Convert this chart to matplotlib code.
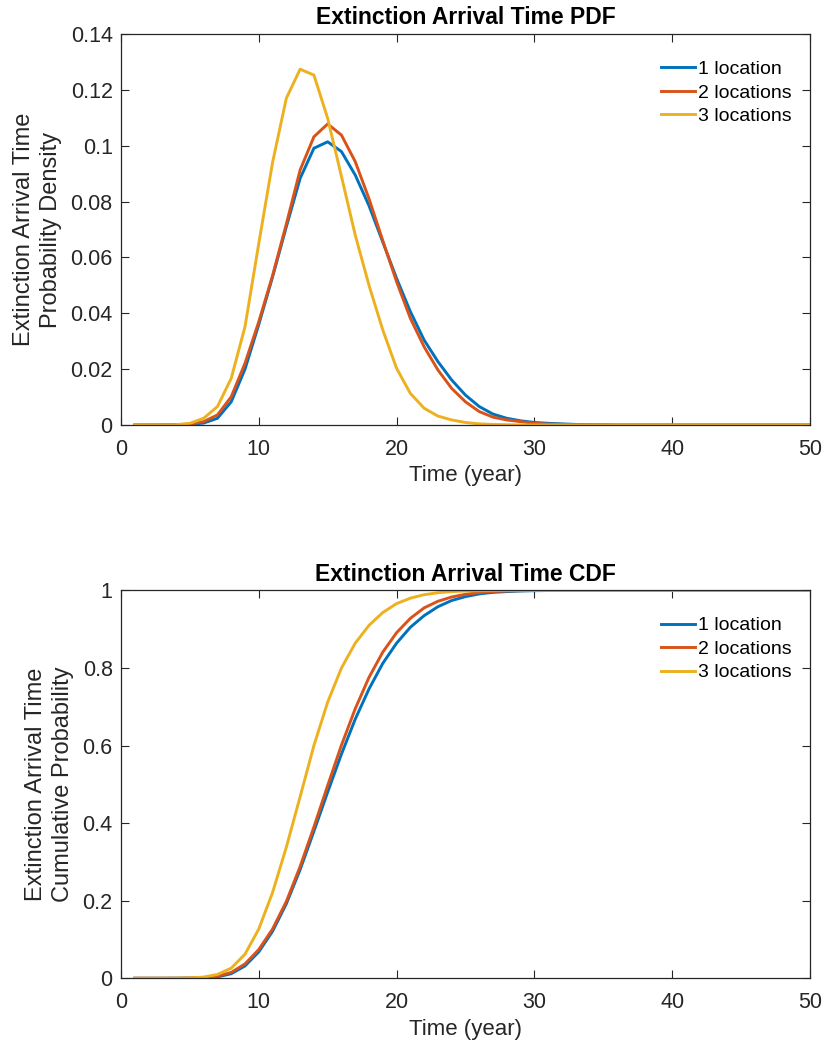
import numpy as np
import matplotlib.pyplot as plt

plt.rcParams['font.family'] = ['Liberation Sans', 'DejaVu Sans']

# time steps (years)
t = np.arange(1, 51)

labels = ['1 location', '2 locations', '3 locations']
colors = ['#0072BD', '#D95319', '#EDB120']

# probability density, t = 1..50
pdf_1 = [0, 0, 0, 0.0001, 0.0002, 0.0007, 0.0024, 0.0083, 0.020, 0.036,
         0.053, 0.071, 0.0883, 0.0991, 0.1014, 0.0979, 0.0895, 0.0785, 0.0655, 0.0525,
         0.0406, 0.0304, 0.0227, 0.0161, 0.0107, 0.0066, 0.0039, 0.0024, 0.0015, 0.0009,
         0.0006, 0.0004, 0.0002, 0.0001, 0.0001, 0, 0, 0, 0, 0,
         0, 0, 0, 0, 0, 0, 0, 0, 0, 0]
pdf_2 = [0, 0, 0, 0.0001, 0.0003, 0.0012, 0.0036, 0.0101, 0.0221, 0.037,
         0.0535, 0.072, 0.0913, 0.1032, 0.1078, 0.1038, 0.0943, 0.081, 0.066, 0.0513,
         0.0382, 0.028, 0.0197, 0.0131, 0.0083, 0.0048, 0.0028, 0.0018, 0.0012, 0.0006,
         0.0003, 0.0002, 0.0001, 0, 0, 0, 0, 0, 0, 0,
         0, 0, 0, 0, 0, 0, 0, 0, 0, 0]
pdf_3 = [0, 0, 0, 0.0001, 0.0006, 0.0024, 0.0066, 0.0167, 0.0352, 0.065,
         0.094, 0.117, 0.1274, 0.1253, 0.1098, 0.089, 0.068, 0.050, 0.034, 0.0203,
         0.0113, 0.006, 0.0032, 0.0018, 0.0009, 0.0004, 0.0002, 0.0001, 0, 0,
         0, 0, 0, 0, 0, 0, 0, 0, 0, 0,
         0, 0, 0, 0, 0, 0, 0, 0, 0, 0]

# cumulative probability, t = 1..50
cdf_1 = [0, 0, 0, 0.0001, 0.0003, 0.001, 0.0034, 0.0117, 0.0317, 0.068,
         0.121, 0.192, 0.28, 0.379, 0.48, 0.578, 0.668, 0.746, 0.812, 0.864,
         0.905, 0.935, 0.958, 0.974, 0.984, 0.991, 0.995, 0.997, 0.9985, 0.9993,
         0.9997, 0.9999, 1, 1, 1, 1, 1, 1, 1, 1,
         1, 1, 1, 1, 1, 1, 1, 1, 1, 1]
cdf_2 = [0, 0, 0, 0.0001, 0.0004, 0.0016, 0.0052, 0.015, 0.037, 0.074,
         0.127, 0.198, 0.288, 0.39, 0.497, 0.601, 0.695, 0.776, 0.841, 0.891,
         0.928, 0.955, 0.972, 0.983, 0.99, 0.9945, 0.9972, 0.9986, 0.9994, 0.9998,
         1, 1, 1, 1, 1, 1, 1, 1, 1, 1,
         1, 1, 1, 1, 1, 1, 1, 1, 1, 1]
cdf_3 = [0, 0, 0, 0.0001, 0.0007, 0.003, 0.0097, 0.026, 0.062, 0.127,
         0.221, 0.338, 0.468, 0.6, 0.712, 0.8, 0.864, 0.91, 0.943, 0.966,
         0.98, 0.989, 0.994, 0.997, 0.9985, 0.9993, 0.9997, 0.9999, 1, 1,
         1, 1, 1, 1, 1, 1, 1, 1, 1, 1,
         1, 1, 1, 1, 1, 1, 1, 1, 1, 1]

dark = '#262626'

fig = plt.figure(figsize=(8.27, 10.53), dpi=100)
ax1 = fig.add_axes([0.1463, 0.5964, 0.8331, 0.3713])
ax2 = fig.add_axes([0.1463, 0.0710, 0.8331, 0.3683])


def style(ax, yticks, ylabels, title, ylabel):
    ax.set_xlim(0, 50)
    ax.set_xticks([0, 10, 20, 30, 40, 50])
    ax.set_yticks(yticks)
    ax.set_yticklabels(ylabels)
    ax.tick_params(direction='in', length=6, width=0.8, color=dark,
                   labelcolor=dark, labelsize=15.5, top=True, right=True)
    ax.tick_params(axis='x', pad=10)
    ax.tick_params(axis='y', pad=6)
    for s in ax.spines.values():
        s.set_color(dark)
        s.set_linewidth(0.9)
    ax.set_title(title, fontsize=16.5, fontweight='bold', color='black', pad=7)
    ax.set_xlabel('Time (year)', fontsize=16, color=dark, labelpad=4)
    ax.set_ylabel(ylabel, fontsize=17, color=dark, labelpad=6,
                  linespacing=1.3)
    ax.legend(loc='upper right', bbox_to_anchor=(0.993, 0.967), frameon=False,
              fontsize=14, handlelength=1.75, handletextpad=0.15,
              labelspacing=0.3, borderaxespad=0.3)


for ys, lab, c in zip([pdf_1, pdf_2, pdf_3], labels, colors):
    ax1.plot(t, ys, color=c, lw=2.1, label=lab)
ax1.set_ylim(0, 0.14)
style(ax1, [0, 0.02, 0.04, 0.06, 0.08, 0.1, 0.12, 0.14],
      ['0', '0.02', '0.04', '0.06', '0.08', '0.1', '0.12', '0.14'],
      'Extinction Arrival Time PDF',
      'Extinction Arrival Time\nProbability Density')

for ys, lab, c in zip([cdf_1, cdf_2, cdf_3], labels, colors):
    ax2.plot(t, ys, color=c, lw=2.1, label=lab)
ax2.set_ylim(0, 1)
style(ax2, [0, 0.2, 0.4, 0.6, 0.8, 1.0],
      ['0', '0.2', '0.4', '0.6', '0.8', '1'],
      'Extinction Arrival Time CDF',
      'Extinction Arrival Time\nCumulative Probability')

fig.savefig('out.png', dpi=100)
